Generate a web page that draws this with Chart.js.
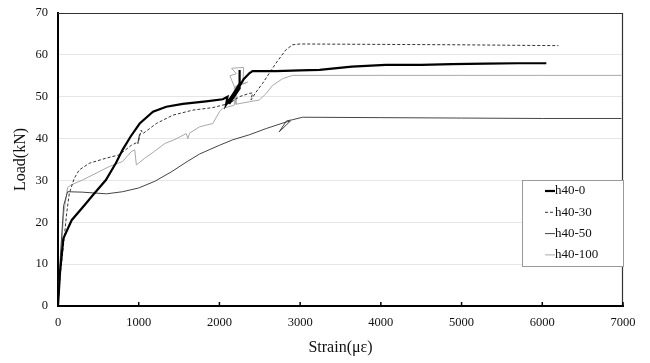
<!DOCTYPE html>
<html>
<head>
<meta charset="utf-8">
<script src="https://cdn.jsdelivr.net/npm/chart.js@4.4.1/dist/chart.umd.min.js"></script>
<style>
  html, body { margin: 0; padding: 0; background: #fff; }
  #wrap { width: 650px; height: 363px; position: relative; }
</style>
</head>
<body>
<div id="wrap"><canvas id="loadChart"></canvas></div>
<script>
// Load-strain curves

// h40-0
const h40_0_strain = [0, 25, 66, 169, 333, 428, 593, 716, 800, 900, 1012, 1177, 1342, 1547, 1835, 2041, 2100, 2082, 2200, 2250, 2250, 2250, 2120, 2300, 2370, 2410, 2700, 3000, 3240, 3640, 4060, 4500, 4880, 5300, 5700, 6050];
const h40_0_load = [0, 8, 16.1, 20.5, 24.2, 26.4, 30.1, 34.1, 37.3, 40.5, 43.6, 46.4, 47.6, 48.3, 48.9, 49.4, 50, 48.1, 51.5, 53.2, 56.4, 52, 48.3, 54.2, 55.6, 56.1, 56.1, 56.3, 56.4, 57.2, 57.6, 57.6, 57.8, 57.9, 58, 58];

// h40-30
const h40_30_strain = [0, 30, 66, 107, 140, 201, 263, 387, 593, 757, 909, 992, 1010, 990, 1030, 1053, 1218, 1424, 1671, 1918, 2123, 2247, 2370, 2410, 2390, 2450, 2535, 2700, 2823, 2905, 3000, 4000, 5000, 6200];
const h40_30_load = [0, 8, 14.2, 22.1, 26.9, 30.5, 32.5, 34.1, 35.3, 36.1, 38.4, 39.2, 41, 38.8, 42, 41.2, 43.6, 45.6, 46.8, 47.4, 48.4, 50, 50.8, 50.9, 49.2, 51, 53.2, 58, 61.2, 62.4, 62.6, 62.5, 62.4, 62.2];

// h40-50
const h40_50_strain = [0, 30, 70, 119, 300, 600, 800, 1000, 1200, 1400, 1600, 1753, 2000, 2164, 2370, 2580, 2800, 2880, 2740, 2830, 2905, 3030, 4000, 5000, 6000, 6980];
const h40_50_load = [0, 12, 24, 27.3, 27.2, 26.8, 27.3, 28.2, 29.8, 32, 34.5, 36.3, 38.4, 39.7, 40.9, 42.4, 43.8, 44.2, 41.6, 44.2, 44.5, 45.1, 45, 44.9, 44.8, 44.8];

// h40-100
const h40_100_strain = [0, 30, 70, 119, 160, 305, 510, 633, 798, 909, 951, 971, 1074, 1198, 1321, 1450, 1589, 1609, 1630, 1753, 1918, 2000, 2041, 2185, 2185, 2130, 2210, 2150, 2300, 2290, 2350, 2200, 2205, 2370, 2493, 2576, 2658, 2782, 2905, 3000, 4000, 5000, 6000, 6980];
const h40_100_load = [0, 10, 22, 28.3, 28.9, 30.1, 32.1, 33.3, 34.5, 36.9, 37.3, 33.7, 35.3, 37, 38.8, 39.8, 41.2, 40, 41.3, 42.8, 43.6, 46.4, 47.2, 48, 52.4, 55, 55.5, 56.8, 57, 53, 53.5, 52.5, 48.2, 48.8, 49.2, 50.7, 52.7, 54.3, 55.1, 55.1, 55.1, 55.1, 55.1, 55.1];

const seriesNames = ['h40-0', 'h40-30', 'h40-50', 'h40-100'];
const xTicks = [0, 1000, 2000, 3000, 4000, 5000, 6000, 7000];
const yTicks = [0, 10, 20, 30, 40, 50, 60, 70];

const FONT = "'Liberation Serif', 'Times New Roman', serif";

function toPoints(xs, ys) {
    return xs.map((x, i) => ({ x: x, y: ys[i] }));
}

// Box frame, inner x tick marks and the boxed legend
const framePlugin = {
    id: 'frame',
    afterDraw(chart) {
        const ctx = chart.ctx;
        const a = chart.chartArea;
        const xs = chart.scales.x;
        ctx.save();
        ctx.strokeStyle = '#333';
        ctx.lineWidth = 1.2;
        ctx.beginPath();
        ctx.moveTo(a.left, a.top + 0.5);
        ctx.lineTo(a.right - 0.5, a.top + 0.5);
        ctx.lineTo(a.right - 0.5, a.bottom);
        ctx.stroke();

        // small tick marks pointing into the plot
        ctx.strokeStyle = '#000';
        ctx.lineWidth = 1.5;
        xTicks.forEach(v => {
            const px = xs.getPixelForValue(v);
            ctx.beginPath();
            ctx.moveTo(px, a.bottom);
            ctx.lineTo(px, a.bottom - 4);
            ctx.stroke();
        });

        // legend box
        const bx = a.right - 101, by = 180, bw = 101, bh = 86;
        ctx.fillStyle = '#fff';
        ctx.fillRect(bx, by, bw, bh);
        ctx.strokeStyle = '#999';
        ctx.lineWidth = 1;
        ctx.strokeRect(bx + 0.5, by + 0.5, bw, bh);
        ctx.font = '13px ' + FONT;
        ctx.textBaseline = 'middle';
        ctx.textAlign = 'left';
        chart.data.datasets.forEach((ds, i) => {
            const ly = by + 11 + i * 21.3;
            ctx.save();
            ctx.strokeStyle = ds.borderColor;
            ctx.lineWidth = ds.borderWidth;
            ctx.setLineDash(ds.borderDash || []);
            ctx.beginPath();
            ctx.moveTo(bx + 23, ly);
            ctx.lineTo(bx + 33, ly);
            ctx.stroke();
            ctx.restore();
            ctx.fillStyle = '#111';
            ctx.fillText(ds.label, bx + 33, ly);
        });
        ctx.restore();
    }
};

function initChart() {
    const ctx = document.getElementById('loadChart');
    new Chart(ctx, {
        type: 'scatter',
        data: {
            datasets: [
                {
                    label: seriesNames[0],
                    data: toPoints(h40_0_strain, h40_0_load),
                    borderColor: '#000',
                    borderWidth: 2.2
                },
                {
                    label: seriesNames[1],
                    data: toPoints(h40_30_strain, h40_30_load),
                    borderColor: '#333',
                    borderWidth: 1,
                    borderDash: [3, 2]
                },
                {
                    label: seriesNames[2],
                    data: toPoints(h40_50_strain, h40_50_load),
                    borderColor: '#444',
                    borderWidth: 1
                },
                {
                    label: seriesNames[3],
                    data: toPoints(h40_100_strain, h40_100_load),
                    borderColor: '#a8a8a8',
                    borderWidth: 1
                }
            ]
        },
        options: {
            responsive: true,
            maintainAspectRatio: false,
            animation: false,
            showLine: true,
            datasets: {
                scatter: { showLine: true, pointRadius: 0, pointHoverRadius: 0, tension: 0, fill: false }
            },
            layout: { padding: { left: 7, right: 27, top: 13, bottom: 0 } },
            plugins: {
                legend: { display: false },
                tooltip: { enabled: false }
            },
            scales: {
                x: {
                    type: 'linear',
                    min: 0,
                    max: 7000,
                    afterBuildTicks: s => { s.ticks = xTicks.map(v => ({ value: v })); },
                    afterFit: s => { s.height = 57; },
                    grid: { display: false, drawTicks: false },
                    border: { display: true, color: '#000', width: 2 },
                    ticks: {
                        color: '#111',
                        padding: 9,
                        maxRotation: 0,
                        callback: v => String(v),
                        font: { family: FONT, size: 12.5 }
                    },
                    title: {
                        display: true,
                        text: 'Strain(με)',
                        color: '#111',
                        padding: { top: 0, bottom: 6 },
                        font: { family: FONT, size: 16 }
                    }
                },
                y: {
                    min: 0,
                    max: 70,
                    afterBuildTicks: s => { s.ticks = yTicks.map(v => ({ value: v })); },
                    afterFit: s => { s.width = 51; s.paddingTop = 0; s.paddingBottom = 0; },
                    grid: { color: '#e6e6e6', lineWidth: 1, drawTicks: false },
                    border: { display: true, color: '#000', width: 2 },
                    ticks: {
                        color: '#111',
                        padding: 10,
                        callback: v => String(v),
                        font: { family: FONT, size: 12.5 }
                    },
                    title: {
                        display: true,
                        text: 'Load(kN)',
                        color: '#111',
                        padding: { top: 4, bottom: 0 },
                        font: { family: FONT, size: 16 }
                    }
                }
            }
        },
        plugins: [framePlugin]
    });
}

document.addEventListener('DOMContentLoaded', initChart);
</script>
</body>
</html>
